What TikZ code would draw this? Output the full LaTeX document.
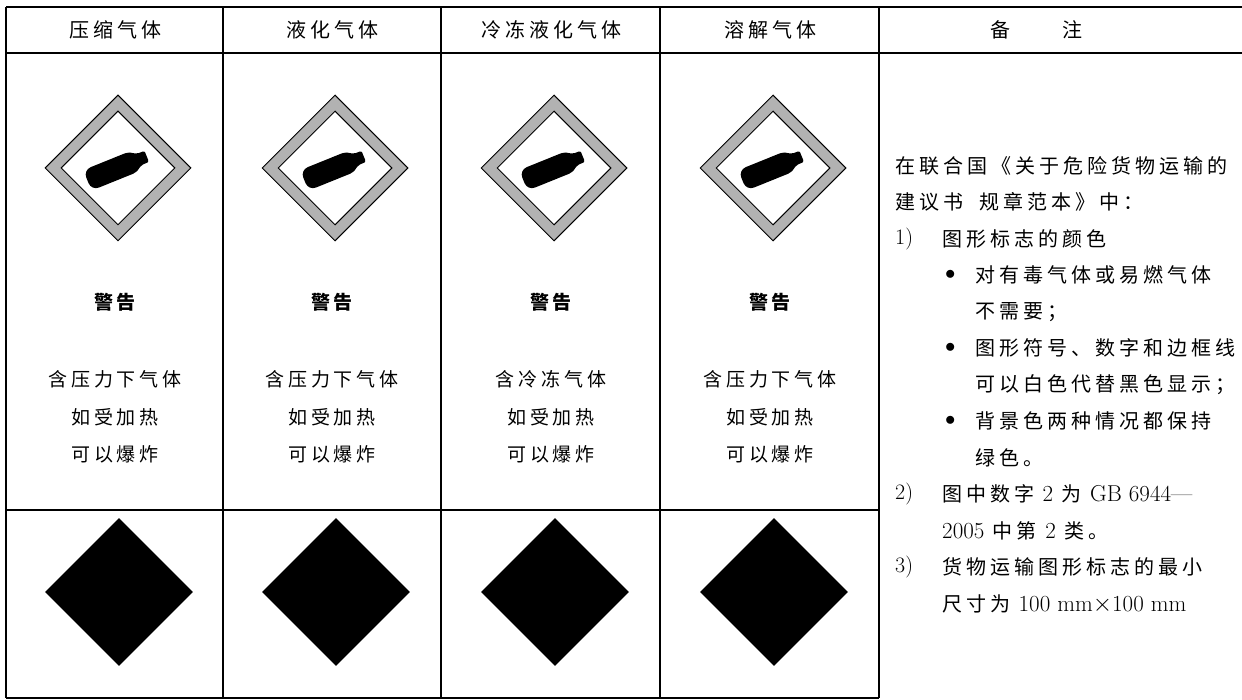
\documentclass[tikz,border=0pt]{standalone}
\usepackage{fontspec}
\usetikzlibrary{shapes.geometric}
\newfontfamily\cjk{Noto Sans CJK SC}[LetterSpace=20]
\newcommand\lat[1]{{\normalfont\fontsize{23}{23}\selectfont #1}}

\tikzset{
	rule/.style={line width=1.2pt},
	thick rule/.style={line width=2.2pt},
	head/.style={font=\cjk\fontsize{20}{20}\selectfont},
	txt/.style={font=\cjk\fontsize{19}{19}\selectfont},
	warn/.style={font=\cjk\bfseries\fontsize{19}{19}\selectfont},
	note/.style={font=\cjk\fontsize{20}{20}\selectfont,anchor=west,inner sep=0pt},
	num/.style={font=\normalfont\fontsize{22}{22}\selectfont,anchor=west,inner sep=0pt},
	sign/.style={diamond,draw=black,line width=1pt,inner sep=0pt,minimum size=#1},
}

\begin{document}
\begin{tikzpicture}[x=1pt,y=-1pt]
	\useasboundingbox (0,0) rectangle (1242,700);
	% table rules
	\draw[thick rule] (6,7) -- (1242,7);
	\draw[thick rule] (6,53) -- (1242,53);
	\foreach \x in {6,223,441,660,879}
		\draw[rule] (\x,7) -- (\x,698);
	\draw[rule] (6,510) -- (879,510);
	\draw[rule] (6,698) -- (879,698);

	% the four gas columns
	\foreach \x/\h/\l [count=\i] in {115/压缩气体/含压力下气体, 332/液化气体/含压力下气体, 551/冷冻液化气体/含冷冻气体, 770/溶解气体/含压力下气体} {
		\node[head] (H\i) at (\x,30) {\h};
		\node[sign=146pt,fill=black!30] (S\i) at (\x+3,168) {};
		\node[sign=114pt,fill=white] (I\i) at (S\i) {};
		\begin{scope}[shift={(S\i.center)},rotate=22]
			\fill[rounded corners=8pt] (-33,-11) rectangle (20,11);
			\fill[rounded corners=2pt] (15,-11) -- (23,-6) -- (31,-6) -- (31,6) -- (23,6) -- (15,11) -- cycle;
		\end{scope}
		\node[warn] (W\i) at (\x,302) {警告};
		\node[txt] (A\i) at (\x,379) {\l};
		\node[txt] (B\i) at (\x,417) {如受加热};
		\node[txt] (C\i) at (\x,454) {可以爆炸};
		\node[diamond,fill=black,inner sep=0pt,minimum size=148pt] (D\i) at (\x+4,592) {};
	}

	% remarks
	\node[head] (H5) at (1036,30) {备\hspace{52pt}注};
	\node[note] (N0) at (895,166) {在联合国《关于危险货物运输的};
	\node[note] (N1) at (895,202) {建议书\hspace{16pt}规章范本》中：};
	\node[num] (P1) at (895,239) {1)};
	\node[note] (N2) at (942,239) {图形标志的颜色};
	\node[num] (B1) at (945,275) {$\bullet$};
	\node[note] (N3) at (975,275) {对有毒气体或易燃气体};
	\node[note] (N4) at (975,312) {不需要；};
	\node[num] (B2) at (945,348) {$\bullet$};
	\node[note] (N5) at (975,348) {图形符号、数字和边框线};
	\node[note] (N6) at (975,385) {可以白色代替黑色显示；};
	\node[num] (B3) at (945,421) {$\bullet$};
	\node[note] (N7) at (975,421) {背景色两种情况都保持};
	\node[note] (N8) at (975,458) {绿色。};
	\node[num] (P2) at (895,494) {2)};
	\node[note] (N9) at (942,494) {图中数字 \lat{2} 为 \lat{GB 6944—}};
	\node[note] (N10) at (942,531) {\lat{2005} 中第 \lat{2} 类。};
	\node[num] (P3) at (895,567) {3)};
	\node[note] (N11) at (942,567) {货物运输图形标志的最小};
	\node[note] (N12) at (942,604) {尺寸为 \lat{100 mm$\times$100 mm}};
\end{tikzpicture}
\end{document}
